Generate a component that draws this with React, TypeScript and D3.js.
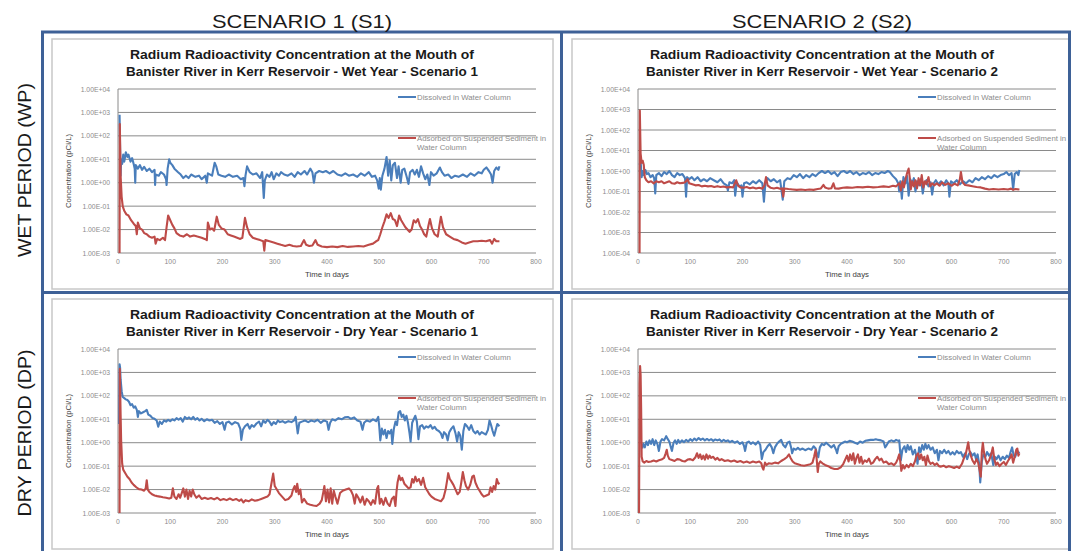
import React from "react";
import * as d3 from "d3";

type Pt = [number, number];

// ---- labels ----
const scenarioHeaders = ["SCENARIO 1 (S1)", "SCENARIO 2 (S2)"];
const periodLabels = ["WET PERIOD (WP)", "DRY PERIOD (DP)"];
const titleLine1 = "Radium Radioactivity Concentration at the Mouth of";
const titleLine2 = [
  "Banister River in Kerr Reservoir - Wet Year - Scenario 1",
  "Banister River in Kerr Reservoir - Wet Year - Scenario 2",
  "Banister River in Kerr Reservoir - Dry Year - Scenario 1",
  "Banister River in Kerr Reservoir - Dry Year - Scenario 2",
];
const legendDissolved = "Dissolved in Water Column";
const legendAdsorbed = ["Adsorbed on Suspended Sediment in", "Water Column"];
const xTitle = "Time in days";
const yTitle = "Concentration (pCi/L)";
const xTicks = [0, 100, 200, 300, 400, 500, 600, 700, 800];
// lowest decade of each panel's log axis (top is always 1E+04)
const minExponents = [-3, -4, -3, -3];

// ---- series: [day, log10(concentration in pCi/L)] ----
const wetS1Dissolved: Pt[] = [
  [3, 2.9], [4, 1.5], [5, 0.3], [6, 1.0], [8, 0.8], [10, 1.2], [12, 0.9], [15, 1.3], [18, 1.1], [20, 1.2], [24, 0.9], [27, 1.05], [30, 0.8], [32, 0.6], [33, 0.0], [34, 0.75], [38, 0.6], [42, 0.75], [46, 0.55], [50, 0.68], [55, 0.5], [60, 0.6], [65, 0.45], [70, 0.55], [71, -0.1], [72, 0.35], [78, 0.3], [82, 0.45], [88, 0.35], [92, 0.15], [93, -0.1], [95, 0.6], [98, 1.0], [100, 0.85], [104, 0.75], [108, 0.6], [115, 0.45], [120, 0.35], [125, 0.2], [130, 0.3], [135, 0.2], [140, 0.35], [148, 0.25], [155, 0.3], [160, 0.15], [167, 0.3], [170, 0.0], [172, 0.4], [180, 0.3], [185, 0.85], [188, 0.7], [192, 0.35], [198, 0.3], [205, 0.25], [212, 0.35], [220, 0.25], [228, 0.3], [235, 0.15], [240, 0.2], [242, -0.15], [244, 0.3], [247, 0.7], [252, 0.45], [258, 0.35], [265, 0.4], [272, 0.2], [276, 0.45], [279, -0.65], [281, 0.1], [285, 0.35], [290, 0.25], [294, 0.45], [298, 0.15], [303, 0.4], [308, 0.3], [312, 0.45], [318, 0.35], [325, 0.3], [332, 0.4], [338, 0.25], [344, 0.45], [350, 0.35], [357, 0.5], [362, 0.35], [368, 0.6], [372, 0.45], [375, 0.0], [378, 0.4], [385, 0.5], [392, 0.45], [398, 0.5], [405, 0.4], [412, 0.5], [420, 0.35], [428, 0.3], [435, 0.4], [442, 0.3], [450, 0.35], [458, 0.25], [465, 0.4], [472, 0.3], [480, 0.45], [486, 0.25], [492, 0.3], [496, 0.1], [499, -0.25], [501, 0.2], [503, -0.3], [506, 0.3], [510, 0.6], [514, 1.1], [517, 0.3], [520, 0.95], [523, 0.1], [526, 0.75], [530, 0.85], [534, 0.2], [537, 0.7], [541, 0.0], [544, 0.55], [548, 0.6], [552, 0.3], [556, -0.05], [559, 0.45], [564, 0.55], [568, 0.35], [572, 0.55], [576, 0.25], [580, 0.7], [584, 0.4], [588, 0.15], [592, 0.35], [596, -0.1], [599, 0.45], [604, 0.3], [610, 0.4], [616, 0.65], [620, 0.45], [625, 0.3], [632, 0.35], [638, 0.2], [645, 0.3], [652, 0.25], [660, 0.35], [668, 0.25], [675, 0.4], [682, 0.3], [690, 0.45], [696, 0.4], [700, 0.55], [705, 0.65], [710, 0.5], [714, 0.35], [717, 0.0], [720, 0.5], [724, 0.65], [728, 0.55], [730, 0.7],
];
const wetS1Adsorbed: Pt[] = [
  [3, -3], [3.5, 2.5], [5, 0.3], [7, -0.6], [9, -1.0], [12, -1.2], [16, -1.35], [20, -1.4], [25, -1.6], [30, -1.75], [34, -1.85], [36, -2.2], [38, -1.7], [42, -1.95], [46, -2.0], [50, -2.15], [55, -2.2], [60, -2.3], [65, -2.35], [70, -2.3], [72, -2.6], [75, -2.4], [80, -2.45], [86, -2.35], [90, -2.45], [93, -1.9], [96, -1.4], [100, -1.6], [104, -1.8], [108, -1.95], [112, -2.15], [118, -2.25], [125, -2.3], [132, -2.2], [138, -2.3], [145, -2.25], [152, -2.3], [160, -2.35], [166, -2.4], [170, -2.45], [172, -1.7], [176, -2.0], [180, -1.95], [184, -2.05], [189, -1.45], [193, -1.8], [198, -1.95], [204, -2.0], [210, -2.2], [216, -2.25], [222, -2.3], [228, -2.35], [234, -2.4], [238, -2.35], [243, -1.5], [247, -1.9], [252, -2.2], [258, -2.35], [265, -2.4], [272, -2.45], [278, -2.5], [280, -2.9], [282, -2.45], [290, -2.5], [298, -2.55], [305, -2.6], [312, -2.65], [320, -2.7], [328, -2.65], [335, -2.7], [342, -2.72], [350, -2.7], [356, -2.45], [360, -2.65], [366, -2.7], [372, -2.68], [378, -2.45], [382, -2.65], [390, -2.72], [400, -2.75], [410, -2.72], [420, -2.75], [430, -2.7], [440, -2.74], [450, -2.72], [460, -2.7], [470, -2.72], [480, -2.65], [488, -2.6], [494, -2.5], [498, -2.45], [502, -2.2], [506, -1.9], [510, -1.65], [514, -1.35], [518, -1.5], [522, -1.3], [526, -1.55], [530, -1.6], [534, -1.85], [538, -1.4], [542, -1.6], [546, -1.75], [550, -1.9], [554, -2.0], [558, -2.1], [562, -2.0], [566, -1.6], [570, -1.7], [574, -1.55], [578, -1.85], [582, -2.0], [586, -2.2], [590, -2.3], [594, -1.85], [597, -1.55], [601, -1.95], [606, -2.2], [612, -2.3], [615, -1.85], [618, -1.45], [622, -1.9], [628, -2.2], [635, -2.3], [642, -2.4], [650, -2.45], [658, -2.55], [665, -2.6], [672, -2.55], [680, -2.5], [688, -2.5], [696, -2.48], [704, -2.5], [712, -2.45], [716, -2.6], [720, -2.4], [724, -2.5], [730, -2.5],
];
const wetS2Dissolved: Pt[] = [
  [3, 0.3], [5, 0.5], [7, -0.3], [9, 0.0], [11, -0.2], [14, 0.05], [17, -0.15], [20, -0.1], [24, -0.3], [28, -0.2], [31, -0.35], [33, -1.1], [35, -0.2], [40, -0.1], [45, -0.25], [50, -0.05], [55, -0.15], [60, 0.0], [65, -0.2], [70, -0.3], [75, -0.1], [80, -0.2], [85, -0.15], [90, -0.35], [92, -1.25], [94, -0.3], [98, -0.4], [103, -0.3], [108, -0.45], [114, -0.3], [120, -0.5], [126, -0.4], [132, -0.5], [138, -0.35], [145, -0.45], [152, -0.55], [158, -0.4], [164, -0.6], [170, -0.7], [172, -0.95], [175, -0.55], [180, -0.6], [184, -0.45], [186, -1.2], [189, -0.55], [194, -0.75], [198, -0.7], [200, -1.25], [203, -0.6], [208, -0.55], [214, -0.65], [220, -0.5], [226, -0.6], [232, -0.45], [238, -0.6], [241, -1.5], [244, -0.55], [248, -0.35], [254, -0.5], [260, -0.4], [266, -0.55], [272, -0.45], [277, -1.4], [280, -0.5], [286, -0.35], [292, -0.4], [298, -0.2], [304, -0.3], [310, -0.15], [316, -0.35], [322, -0.2], [328, -0.3], [334, -0.15], [340, -0.25], [346, -0.1], [352, 0.0], [358, -0.1], [364, 0.0], [370, -0.15], [376, -0.05], [382, -0.25], [388, -0.05], [394, 0.0], [400, -0.1], [406, 0.0], [412, -0.15], [418, -0.05], [424, -0.2], [430, -0.1], [436, -0.15], [442, -0.05], [448, -0.2], [454, -0.1], [460, -0.15], [466, -0.05], [472, -0.1], [478, 0.0], [482, -0.05], [488, -0.25], [494, -0.4], [498, -0.6], [500, -1.0], [502, -0.5], [505, -1.35], [508, -0.3], [512, -0.6], [515, -0.25], [518, -1.2], [521, -0.4], [525, -0.6], [528, -0.35], [531, -1.0], [534, -0.5], [538, -0.7], [542, -0.4], [545, -1.1], [548, -0.6], [552, -0.45], [556, -0.75], [560, -0.55], [563, -1.15], [566, -0.6], [570, -0.45], [575, -0.65], [580, -0.5], [585, -0.7], [590, -0.45], [594, -0.6], [596, -1.25], [599, -0.5], [604, -0.6], [610, -0.45], [616, -0.65], [622, -0.5], [628, -0.6], [634, -0.45], [640, -0.55], [646, -0.35], [652, -0.45], [658, -0.3], [664, -0.4], [670, -0.25], [676, -0.35], [682, -0.2], [688, -0.3], [694, -0.2], [700, -0.15], [705, -0.05], [710, -0.2], [715, -0.1], [718, -0.9], [721, -0.15], [725, -0.05], [728, -0.2], [730, 0.05],
];
const wetS2Adsorbed: Pt[] = [
  [3, -4], [3.5, 2.95], [5, 0.85], [7, 0.4], [9, 0.5], [11, 0.3], [13, -0.3], [16, -0.45], [20, -0.55], [25, -0.5], [30, -0.6], [35, -0.5], [40, -0.55], [45, -0.5], [50, -0.6], [55, -0.55], [60, -0.5], [65, -0.6], [70, -0.62], [75, -0.55], [80, -0.6], [86, -0.58], [90, -0.55], [95, -0.4], [98, -0.6], [104, -0.65], [110, -0.7], [116, -0.68], [122, -0.75], [128, -0.72], [134, -0.75], [140, -0.73], [146, -0.78], [152, -0.74], [158, -0.78], [164, -0.76], [170, -0.8], [176, -0.78], [182, -0.8], [188, -0.45], [191, -0.7], [196, -0.8], [202, -0.82], [208, -0.78], [214, -0.84], [220, -0.8], [226, -0.85], [232, -0.82], [238, -0.86], [242, -0.7], [245, -0.3], [248, -0.7], [254, -0.82], [260, -0.85], [266, -0.82], [272, -0.87], [276, -0.85], [278, -1.25], [280, -0.85], [288, -0.88], [296, -0.9], [304, -0.92], [312, -0.9], [320, -0.93], [328, -0.9], [336, -0.92], [344, -0.88], [350, -0.85], [355, -0.68], [358, -0.8], [364, -0.86], [370, -0.84], [374, -0.6], [377, -0.85], [384, -0.86], [392, -0.82], [400, -0.8], [410, -0.82], [420, -0.78], [430, -0.8], [440, -0.77], [450, -0.8], [460, -0.78], [470, -0.75], [480, -0.78], [488, -0.72], [494, -0.75], [500, -0.6], [503, -0.95], [506, -0.5], [509, -0.8], [512, -0.4], [515, -0.1], [518, 0.12], [520, -0.3], [522, -0.9], [525, -0.5], [528, -0.75], [531, -0.45], [534, -0.85], [537, -0.35], [540, -0.7], [543, -0.2], [546, -0.8], [549, -0.5], [552, -0.65], [556, -0.3], [559, -0.75], [563, -0.6], [567, -0.7], [572, -0.6], [577, -0.72], [582, -0.55], [588, -0.68], [594, -0.6], [600, -0.72], [606, -0.62], [612, -0.7], [616, -0.4], [618, -0.05], [621, -0.55], [626, -0.68], [632, -0.7], [640, -0.74], [648, -0.78], [656, -0.8], [664, -0.86], [672, -0.9], [680, -0.88], [690, -0.9], [700, -0.88], [708, -0.9], [714, -0.86], [718, -0.92], [722, -0.88], [730, -0.9],
];
const dryS1Dissolved: Pt[] = [
  [2, 0.8], [3, 3.35], [4, 3.2], [5, 2.7], [7, 2.2], [9, 1.95], [12, 1.9], [15, 1.85], [18, 1.82], [21, 1.75], [24, 1.6], [27, 1.65], [30, 1.5], [33, 1.55], [36, 1.4], [38, 1.1], [40, 1.35], [44, 1.25], [48, 1.3], [52, 1.35], [55, 1.4], [58, 1.2], [62, 1.15], [66, 1.05], [70, 1.02], [74, 0.95], [77, 0.68], [80, 0.9], [84, 0.8], [88, 0.95], [92, 0.9], [96, 0.98], [100, 0.92], [104, 1.0], [108, 0.95], [112, 1.05], [116, 0.98], [120, 1.05], [124, 0.9], [128, 1.1], [132, 1.02], [136, 1.08], [140, 1.0], [144, 1.1], [148, 0.98], [152, 1.05], [156, 0.95], [160, 1.02], [165, 0.92], [170, 1.0], [175, 0.95], [180, 0.98], [185, 0.85], [190, 0.92], [195, 0.8], [200, 0.88], [204, 0.55], [207, 0.85], [212, 0.9], [218, 0.78], [224, 0.88], [230, 0.82], [234, 0.6], [236, 0.12], [239, 0.55], [243, 0.7], [248, 0.8], [252, 0.6], [256, 0.75], [260, 0.68], [265, 0.82], [270, 0.9], [274, 0.7], [278, 0.95], [282, 0.85], [286, 0.98], [290, 0.9], [294, 0.75], [298, 0.88], [302, 0.8], [306, 0.95], [310, 0.88], [315, 0.92], [320, 0.85], [326, 0.92], [332, 0.88], [337, 0.95], [340, 1.1], [342, 0.75], [344, 0.4], [347, 0.85], [352, 0.9], [358, 0.95], [364, 0.88], [370, 0.95], [376, 0.9], [382, 0.98], [388, 0.85], [394, 0.95], [400, 0.9], [403, 0.55], [406, 0.85], [410, 1.0], [416, 0.95], [422, 1.05], [428, 1.0], [434, 1.08], [440, 1.1], [446, 1.02], [452, 1.08], [458, 0.95], [464, 0.9], [468, 0.55], [471, 0.85], [476, 0.95], [482, 0.9], [488, 1.0], [494, 0.92], [498, 1.1], [500, 0.7], [502, 0.1], [505, 0.6], [508, 0.35], [511, 0.55], [514, 0.2], [517, 0.5], [520, 0.4], [523, 0.55], [525, -0.05], [528, 0.6], [531, 0.9], [534, 0.75], [537, 1.3], [540, 1.35], [543, 1.1], [546, 1.2], [549, 0.95], [552, 1.15], [555, 0.85], [558, 0.4], [560, 0.05], [563, 0.85], [566, 1.0], [569, 1.15], [572, 0.9], [575, 0.15], [578, 0.7], [582, 0.75], [586, 0.6], [590, 0.7], [594, 0.65], [598, 0.75], [602, 0.6], [606, 0.68], [610, 0.55], [614, 0.5], [618, 0.4], [621, 0.2], [624, 0.45], [628, 0.35], [631, 0.1], [634, 0.45], [638, 0.6], [642, 0.7], [646, 0.4], [649, 0.05], [652, 0.45], [655, 0.3], [658, -0.3], [661, 0.5], [664, 0.8], [668, 0.7], [672, 0.55], [676, 0.75], [680, 0.5], [684, 0.4], [688, 0.5], [692, 0.35], [696, 0.45], [700, 0.4], [704, 0.35], [708, 0.55], [711, 0.95], [714, 0.75], [717, 0.5], [720, 0.3], [723, 0.55], [726, 0.8], [730, 0.7],
];
const dryS1Adsorbed: Pt[] = [
  [3, -3], [3.5, 3.15], [5, 1.2], [6, 0.1], [8, -0.9], [10, -1.15], [14, -1.3], [18, -1.45], [22, -1.55], [26, -1.7], [30, -1.8], [35, -1.9], [40, -1.98], [45, -2.0], [50, -2.05], [53, -1.95], [55, -1.6], [57, -2.0], [60, -2.1], [65, -2.2], [70, -2.25], [75, -2.28], [80, -2.3], [86, -2.33], [92, -2.35], [98, -2.38], [102, -2.35], [105, -1.95], [108, -2.3], [112, -2.4], [116, -2.2], [119, -2.35], [122, -2.15], [125, -1.95], [128, -2.3], [131, -2.0], [134, -2.4], [137, -2.05], [140, -2.3], [143, -2.0], [146, -2.2], [150, -2.35], [155, -2.25], [160, -2.4], [166, -2.35], [172, -2.4], [178, -2.36], [184, -2.42], [190, -2.35], [196, -2.45], [202, -2.4], [208, -2.45], [214, -2.38], [220, -2.45], [226, -2.4], [232, -2.48], [236, -2.42], [240, -2.55], [244, -2.45], [250, -2.5], [256, -2.42], [262, -2.48], [268, -2.45], [274, -2.4], [280, -2.35], [286, -2.3], [290, -2.2], [294, -1.7], [297, -1.32], [300, -1.85], [304, -2.0], [308, -2.15], [314, -2.3], [320, -2.45], [326, -2.4], [332, -2.25], [335, -2.0], [338, -1.85], [341, -2.1], [343, -1.75], [346, -2.2], [349, -2.0], [352, -2.55], [356, -2.4], [362, -2.6], [368, -2.65], [374, -2.68], [380, -2.7], [386, -2.6], [390, -2.45], [393, -2.1], [395, -1.85], [398, -2.5], [401, -2.0], [404, -2.55], [407, -1.95], [410, -2.6], [413, -2.05], [416, -2.3], [420, -2.6], [425, -2.15], [430, -2.05], [436, -2.0], [442, -1.95], [446, -2.05], [450, -2.25], [453, -2.6], [456, -2.2], [460, -2.35], [464, -2.55], [468, -2.3], [472, -2.65], [476, -2.4], [480, -2.5], [484, -2.65], [488, -2.45], [492, -2.6], [496, -1.95], [498, -1.85], [501, -2.6], [504, -2.4], [508, -2.65], [512, -2.35], [516, -2.6], [520, -2.7], [524, -2.4], [528, -2.3], [531, -2.7], [533, -2.1], [535, -1.7], [538, -1.4], [541, -1.6], [544, -1.5], [548, -1.75], [552, -1.85], [556, -1.95], [560, -1.9], [563, -1.55], [566, -1.7], [569, -1.45], [572, -1.65], [576, -1.55], [580, -1.8], [584, -1.5], [588, -1.9], [592, -2.05], [596, -2.2], [600, -2.3], [606, -2.4], [612, -2.45], [618, -2.5], [623, -2.35], [627, -2.0], [630, -1.6], [632, -1.3], [635, -1.55], [638, -1.65], [642, -1.8], [646, -2.0], [650, -2.2], [654, -2.1], [657, -1.7], [660, -1.25], [663, -1.6], [666, -1.85], [670, -2.0], [674, -1.8], [678, -1.45], [681, -1.4], [684, -1.7], [688, -1.9], [692, -2.05], [696, -2.2], [700, -2.3], [705, -2.25], [710, -2.2], [713, -1.9], [716, -2.1], [719, -1.85], [722, -2.0], [725, -1.55], [728, -1.75], [730, -1.7],
];
const dryS2Dissolved: Pt[] = [
  [8, -0.25], [10, -0.05], [13, -0.2], [16, 0.05], [19, -0.1], [22, 0.1], [25, -0.05], [28, 0.15], [31, -0.1], [34, 0.1], [37, -0.05], [40, -0.35], [43, 0.05], [46, 0.15], [50, 0.1], [54, 0.28], [57, 0.15], [60, 0.05], [63, -0.2], [65, -0.35], [68, 0.0], [71, 0.1], [74, -0.05], [77, 0.12], [80, 0.0], [84, 0.1], [88, 0.02], [92, 0.12], [96, 0.05], [100, 0.15], [104, 0.08], [108, 0.18], [112, 0.1], [116, 0.2], [120, 0.12], [124, 0.18], [128, 0.1], [132, 0.16], [136, 0.1], [140, 0.15], [144, 0.08], [148, 0.14], [152, 0.1], [156, 0.14], [160, 0.05], [164, 0.12], [168, 0.06], [172, 0.1], [176, 0.02], [180, 0.08], [185, 0.0], [190, 0.06], [195, -0.05], [200, 0.02], [203, -0.15], [205, -0.35], [208, 0.0], [212, 0.05], [216, -0.05], [220, 0.02], [225, -0.08], [230, 0.05], [234, -0.1], [237, -0.7], [240, -0.4], [244, -0.3], [248, -0.15], [252, -0.05], [256, -0.2], [259, -0.45], [262, -0.2], [266, -0.05], [270, 0.05], [274, 0.12], [278, -0.1], [282, -0.2], [286, 0.0], [290, 0.05], [293, -0.2], [295, -0.45], [298, -0.25], [302, -0.3], [306, -0.22], [310, -0.3], [315, -0.25], [320, -0.32], [326, -0.25], [332, -0.3], [336, -0.15], [340, -0.25], [343, -0.5], [345, -0.62], [348, -0.2], [352, -0.05], [356, -0.1], [360, 0.0], [365, -0.1], [370, -0.2], [375, -0.1], [379, -0.3], [381, -0.45], [384, -0.15], [388, -0.05], [392, 0.0], [396, 0.05], [400, 0.02], [405, 0.08], [410, 0.05], [415, 0.0], [420, -0.05], [425, 0.05], [430, 0.0], [435, 0.08], [440, 0.1], [445, 0.12], [450, 0.12], [455, 0.15], [460, 0.12], [465, 0.1], [470, 0.05], [473, -0.2], [476, -0.1], [480, 0.05], [485, 0.1], [490, 0.05], [494, 0.12], [498, 0.08], [500, 0.1], [503, -0.75], [506, -0.3], [510, -0.15], [513, -0.4], [516, -0.1], [519, -0.3], [522, -0.15], [526, -0.5], [530, -0.3], [533, -0.6], [535, -0.9], [538, -0.2], [541, -0.4], [544, -0.1], [547, -0.3], [550, -0.05], [553, -0.25], [556, -0.1], [560, -0.3], [564, -0.2], [568, -0.45], [572, -0.3], [575, -0.75], [578, -0.35], [582, -0.45], [586, -0.3], [590, -0.45], [594, -0.35], [598, -0.5], [602, -0.4], [606, -0.5], [610, -0.35], [614, -0.45], [618, -0.4], [622, -0.6], [626, -0.45], [630, -0.7], [633, -0.5], [636, -0.4], [640, -0.55], [644, -0.45], [647, -0.7], [650, -0.5], [653, -0.9], [655, -1.7], [658, -0.8], [661, -0.5], [665, -0.6], [668, -0.4], [672, -0.55], [676, -0.45], [680, -0.95], [683, -0.6], [686, -0.7], [690, -0.55], [694, -0.75], [698, -0.6], [702, -0.7], [706, -0.55], [710, -0.65], [713, -0.4], [716, -0.2], [719, -0.55], [722, -0.6], [726, -0.35], [730, -0.45],
];
const dryS2Adsorbed: Pt[] = [
  [2, -3], [3, 2.5], [4, 3.27], [5, 2.9], [6, 1.5], [7, -0.6], [9, -0.8], [12, -0.85], [16, -0.78], [20, -0.82], [25, -0.8], [30, -0.76], [35, -0.8], [40, -0.75], [45, -0.72], [50, -0.65], [53, -0.45], [55, -0.3], [57, -0.55], [60, -0.7], [65, -0.74], [70, -0.78], [75, -0.7], [80, -0.72], [85, -0.78], [90, -0.8], [95, -0.72], [100, -0.7], [105, -0.75], [110, -0.62], [113, -0.45], [116, -0.65], [119, -0.5], [122, -0.7], [125, -0.55], [128, -0.72], [131, -0.5], [134, -0.68], [137, -0.55], [140, -0.65], [144, -0.6], [148, -0.72], [152, -0.65], [156, -0.75], [160, -0.7], [166, -0.78], [172, -0.75], [178, -0.8], [184, -0.76], [190, -0.82], [196, -0.78], [202, -0.85], [208, -0.8], [214, -0.86], [220, -0.8], [226, -0.84], [232, -0.8], [236, -0.88], [238, -1.05], [240, -1.15], [243, -0.85], [246, -0.95], [250, -0.88], [256, -0.9], [262, -0.85], [268, -0.88], [274, -0.78], [280, -0.7], [285, -0.62], [289, -0.5], [292, -0.65], [296, -0.8], [300, -0.88], [306, -0.92], [312, -0.96], [318, -0.98], [324, -0.95], [330, -0.92], [334, -0.85], [337, -0.6], [340, -0.3], [342, -0.7], [344, -1.25], [346, -0.9], [349, -0.8], [353, -0.88], [358, -0.95], [364, -1.0], [370, -1.08], [376, -1.12], [382, -1.12], [388, -1.05], [393, -0.9], [397, -0.7], [400, -0.55], [403, -0.8], [406, -0.5], [409, -0.75], [412, -0.45], [415, -0.9], [418, -0.65], [421, -0.5], [424, -0.85], [427, -0.6], [430, -0.9], [434, -0.75], [438, -0.82], [442, -0.68], [446, -0.9], [450, -0.85], [454, -0.7], [458, -0.6], [462, -0.75], [466, -0.68], [470, -0.85], [475, -0.8], [480, -0.92], [485, -0.88], [490, -0.96], [494, -0.85], [497, -0.7], [500, -0.5], [502, -0.8], [504, -1.2], [507, -0.95], [510, -1.1], [514, -0.95], [518, -1.05], [522, -0.9], [526, -1.0], [530, -0.8], [533, -0.55], [536, -0.45], [539, -0.7], [542, -0.5], [545, -0.75], [548, -0.6], [551, -0.95], [554, -0.55], [557, -0.8], [560, -0.9], [564, -0.85], [568, -0.95], [572, -0.88], [576, -1.0], [580, -1.02], [585, -0.98], [590, -1.05], [595, -1.0], [600, -1.04], [605, -1.08], [610, -1.02], [615, -1.08], [620, -0.9], [624, -0.65], [627, -0.5], [630, -0.2], [632, 0.02], [634, -0.3], [637, -0.55], [640, -0.75], [644, -0.9], [648, -0.7], [651, -0.85], [654, -1.2], [656, -1.45], [658, -0.4], [660, 0.0], [662, -0.4], [665, -0.7], [668, -0.9], [672, -0.75], [676, -0.5], [679, -0.2], [682, -0.7], [685, -0.95], [688, -0.85], [692, -1.0], [696, -0.9], [700, -0.82], [704, -0.95], [708, -0.78], [712, -0.65], [715, -0.5], [718, -0.85], [721, -0.6], [724, -0.3], [726, -0.25], [728, -0.55], [730, -0.45],
];

const dissolvedSeries = [wetS1Dissolved, wetS2Dissolved, dryS1Dissolved, dryS2Dissolved];
const adsorbedSeries = [wetS1Adsorbed, wetS2Adsorbed, dryS1Adsorbed, dryS2Adsorbed];

const BLUE = "#4a7ebb";
const RED = "#be4b48";
const FRAME = "#3e6197";
const FONT = "'Liberation Sans', Arial, sans-serif";
const PW = 418;
const PH = 164;

const fmtExp = (e: number) => `1.00E${e < 0 ? "-" : "+"}${String(Math.abs(e)).padStart(2, "0")}`;

function Panel({ idx, px, py }: { idx: number; px: number; py: number }) {
  const minExp = minExponents[idx];
  const x = d3.scaleLinear().domain([0, 800]).range([px, px + PW]);
  const y = d3.scaleLog().domain([Math.pow(10, minExp), 1e4]).range([py + PH, py]);
  const decades = d3.range(minExp, 5);
  const line = d3
    .line<Pt>()
    .x((d) => x(d[0]))
    .y((d) => y(Math.pow(10, d[1])));
  const cx = px + 184;
  return (
    <g>
      <rect x={px - 66} y={py - 50} width={501} height={250} fill="#fff" stroke="#c8c8c8" strokeWidth={1.5} />
      <text x={cx} y={py - 30} textAnchor="middle" fontSize={13.5} fontWeight="bold" fill="#1a1a1a" fontFamily={FONT}
        textLength={344} lengthAdjust="spacingAndGlyphs">
        {titleLine1}
      </text>
      <text x={cx} y={py - 13} textAnchor="middle" fontSize={13.5} fontWeight="bold" fill="#1a1a1a" fontFamily={FONT}
        textLength={352} lengthAdjust="spacingAndGlyphs">
        {titleLine2[idx]}
      </text>
      {decades.map((e) => (
        <g key={e}>
          <line x1={px} x2={px + PW} y1={y(Math.pow(10, e))} y2={y(Math.pow(10, e))} stroke="#8a8a8a" strokeWidth={1} />
          <text x={px - 8} y={y(Math.pow(10, e)) + 2.5} textAnchor="end" fontSize={6.8} fill="#8c8c8c" fontFamily={FONT}>
            {fmtExp(e)}
          </text>
        </g>
      ))}
      <line x1={px} x2={px} y1={py} y2={py + PH} stroke="#8a8a8a" strokeWidth={1} />
      {xTicks.map((t) => (
        <text key={t} x={x(t)} y={py + PH + 11} textAnchor="middle" fontSize={6.8} fill="#8c8c8c" fontFamily={FONT}>
          {t}
        </text>
      ))}
      <text x={px + PW / 2} y={py + PH + 24} textAnchor="middle" fontSize={7.8} fill="#404040" fontFamily={FONT}>
        {xTitle}
      </text>
      <text
        transform={`translate(${px - 47},${py + PH / 2}) rotate(-90)`}
        textAnchor="middle"
        fontSize={7.8}
        fill="#404040"
        fontFamily={FONT}
      >
        {yTitle}
      </text>
      <path d={line(dissolvedSeries[idx]) ?? ""} fill="none" stroke={BLUE} strokeWidth={2.1} strokeLinejoin="round" />
      <path d={line(adsorbedSeries[idx]) ?? ""} fill="none" stroke={RED} strokeWidth={2.1} strokeLinejoin="round" />
      {/* legend */}
      <line x1={px + 280} x2={px + 298} y1={py + 8} y2={py + 8} stroke={BLUE} strokeWidth={2} />
      <text x={px + 299} y={py + 10.5} fontSize={7.8} fill="#8c8c8c" fontFamily={FONT}>
        {legendDissolved}
      </text>
      <line x1={px + 280} x2={px + 298} y1={py + 49} y2={py + 49} stroke={RED} strokeWidth={2} />
      <text x={px + 299} y={py + 51.5} fontSize={7.8} fill="#8c8c8c" fontFamily={FONT}>
        {legendAdsorbed[0]}
      </text>
      <text x={px + 299} y={py + 60.5} fontSize={7.8} fill="#8c8c8c" fontFamily={FONT}>
        {legendAdsorbed[1]}
      </text>
    </g>
  );
}

export default function App() {
  const cols = [118, 638];
  const rows = [89, 349];
  return (
    <svg
      width={1071}
      height={551}
      style={{ position: "absolute", left: 0, top: 0, background: "#fff" }}
    >
      {rows.map((ry, r) =>
        cols.map((cx, c) => <Panel key={`${r}-${c}`} idx={r * 2 + c} px={cx} py={ry} />)
      )}
      {/* frame */}
      <line x1={41} x2={1071} y1={32} y2={32} stroke={FRAME} strokeWidth={3} />
      <line x1={41} x2={1071} y1={292.5} y2={292.5} stroke={FRAME} strokeWidth={3} />
      <line x1={42.5} x2={42.5} y1={31} y2={551} stroke={FRAME} strokeWidth={3} />
      <line x1={561.5} x2={561.5} y1={31} y2={551} stroke={FRAME} strokeWidth={3} />
      <line x1={1069.5} x2={1069.5} y1={31} y2={551} stroke={FRAME} strokeWidth={3} />
      {scenarioHeaders.map((h, i) => (
        <text key={h} x={i === 0 ? 302 : 822} y={28} textAnchor="middle" fontSize={18} fill="#1a1a1a" fontFamily={FONT}
          textLength={180} lengthAdjust="spacingAndGlyphs">
          {h}
        </text>
      ))}
      {periodLabels.map((p, i) => (
        <text
          key={p}
          transform={`translate(${31},${i === 0 ? 170 : 433}) rotate(-90)`}
          textAnchor="middle"
          fontSize={18}
          fill="#1a1a1a"
          fontFamily={FONT}
          textLength={i === 0 ? 174 : 167}
          lengthAdjust="spacingAndGlyphs"
        >
          {p}
        </text>
      ))}
    </svg>
  );
}
